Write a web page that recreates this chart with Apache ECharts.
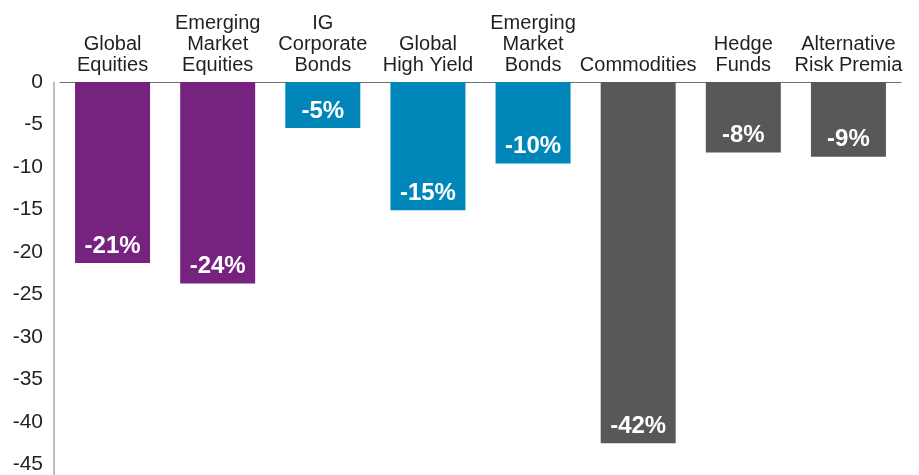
<!DOCTYPE html>
<html>
<head>
<meta charset="utf-8">
<script src="https://cdn.jsdelivr.net/npm/echarts@6/dist/echarts.min.js"></script>
<style>html,body{margin:0;padding:0;background:#fff}#c{width:919px;height:475px}</style>
</head>
<body>
<div id="c"></div>
<script>
const categories = ["Global\nEquities", "Emerging\nMarket\nEquities", "IG\nCorporate\nBonds", "Global\nHigh Yield", "Emerging\nMarket\nBonds", "Commodities", "Hedge\nFunds", "Alternative\nRisk Premia"];
const values = [-21.3, -23.7, -5.4, -15.1, -9.6, -42.5, -8.3, -8.8];
const labels = ["-21%", "-24%", "-5%", "-15%", "-10%", "-42%", "-8%", "-9%"];
const colors = ["#76237f", "#76237f", "#0086b8", "#0086b8", "#0086b8", "#58585a", "#58585a", "#58585a"];
const yTicks = [0, -5, -10, -15, -20, -25, -30, -35, -40, -45];

const chart = echarts.init(document.getElementById('c'), null, {renderer: 'canvas'});
chart.setOption({
  animation: false,
  grid: {left: 60, right: 18, top: 82, bottom: 0, containLabel: false},
  xAxis: {
    type: 'category',
    position: 'top',
    data: categories,
    axisLine: {show: true, onZero: false, lineStyle: {color: '#6d6e71', width: 1}},
    axisTick: {show: false},
    axisLabel: {
      interval: 0,
      margin: 6,
      color: '#231f20',
      fontFamily: 'Liberation Sans, Arial, sans-serif',
      fontSize: 20,
      lineHeight: 21
    }
  },
  yAxis: {
    type: 'value',
    min: -46.2,
    max: 0,
    offset: 6,
    splitLine: {show: false},
    axisLine: {show: true, lineStyle: {color: '#a7a9ac', width: 1.5}},
    axisTick: {show: false},
    axisLabel: {
      customValues: yTicks,
      margin: 11,
      color: '#231f20',
      fontFamily: 'Liberation Sans, Arial, sans-serif',
      fontSize: 21
    }
  },
  series: [{
    type: 'bar',
    barWidth: 75,
    data: values.map((v, i) => ({value: v, itemStyle: {color: colors[i]}})),
    label: {
      show: true,
      position: 'insideBottom',
      distance: 5,
      formatter: p => labels[p.dataIndex],
      color: '#fff',
      fontWeight: 'bold',
      fontSize: 24,
      fontFamily: 'Liberation Sans, Arial, sans-serif'
    }
  }]
});
</script>
</body>
</html>
